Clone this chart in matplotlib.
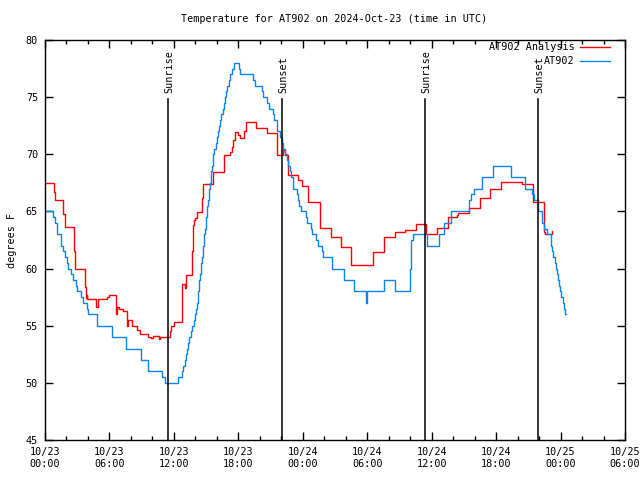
import matplotlib
matplotlib.use("Agg")
import matplotlib.pyplot as plt
from matplotlib.ticker import MultipleLocator

# ---- data (hours since 2024-10-23 00:00 UTC, degrees F) ----
obs_hours = [0.0, 0.78, 0.93, 1.09, 1.15, 1.46, 1.52, 1.71, 1.83, 2.08, 2.17, 2.45, 2.58,
             2.86, 2.95, 3.38, 3.57, 3.88, 4.03, 4.81, 6.21, 7.51, 8.91, 9.59, 10.93, 11.14,
             12.41, 12.72, 12.85, 13.0, 13.1,
             13.19, 13.30, 13.42, 13.55, 13.72, 13.84, 13.97, 14.05, 14.13, 14.20, 14.25,
             14.31, 14.38, 14.45, 14.50, 14.56, 14.62, 14.68, 14.73, 14.79, 14.84, 14.90,
             14.95, 15.01, 15.07, 15.12, 15.18, 15.24, 15.30, 15.36, 15.42, 15.48, 15.55,
             15.61, 15.68, 15.78, 15.88, 15.99, 16.10, 16.21, 16.32, 16.43, 16.53, 16.63,
             16.74, 16.85, 16.96, 17.10, 17.22, 17.42, 17.63,
             18.06, 18.15, 19.40, 19.55, 20.17, 20.33, 20.70, 20.85, 21.26, 21.35, 21.57,
             21.63, 21.88, 22.04, 22.20, 22.35, 22.50, 22.66, 22.81, 22.92, 23.06, 23.43,
             23.59, 23.68, 23.84, 24.30, 24.42, 24.77, 24.83, 25.23, 25.39, 25.76, 25.91,
             26.69, 27.84, 28.80, 29.92, 30.0, 31.55, 32.62, 33.94, 34.02, 34.12, 34.30,
             35.53, 36.65, 37.14, 37.83, 39.43, 39.52, 39.70, 39.97, 40.69, 41.74, 43.42,
             44.72, 45.37, 45.50, 45.93, 46.27, 46.48, 46.71, 47.08, 47.20, 47.33, 47.45,
             47.55, 47.65, 47.74, 47.83, 47.95, 48.08, 48.22, 48.32, 48.42, 48.48]
obs_temp = [65.0, 64.5, 64.0, 63.5, 63.0, 62.5, 62.0, 61.5, 61.0, 60.5, 60.0, 59.5, 59.0,
            58.5, 58.0, 57.5, 57.0, 56.5, 56.0, 55.0, 54.0, 53.0, 52.0, 51.0, 50.5, 50.0,
            50.5, 51.0, 51.5, 52.0, 52.5,
            53.0, 53.5, 54.0, 54.5, 55.0, 55.5, 56.0, 56.5, 57.0, 57.5, 58.0,
            58.5, 59.0, 59.5, 60.0, 60.5, 61.0, 61.5, 62.0, 62.5, 63.0, 63.5,
            64.0, 64.5, 65.0, 65.5, 66.0, 66.5, 67.0, 67.5, 68.0, 68.5, 69.0,
            69.5, 70.0, 70.5, 71.0, 71.5, 72.0, 72.5, 73.0, 73.5, 74.0, 74.5,
            75.0, 75.5, 76.0, 76.5, 77.0, 77.5, 78.0,
            77.5, 77.0, 76.5, 76.0, 75.5, 75.0, 74.5, 74.0, 73.5, 73.0, 72.5,
            72.0, 71.5, 71.0, 70.5, 70.0, 69.5, 69.0, 68.5, 68.0, 67.0, 66.5,
            66.0, 65.5, 65.0, 64.5, 64.0, 63.5, 63.0, 62.5, 62.0, 61.5, 61.0,
            60.0, 59.0, 58.0, 57.0, 58.0, 59.0, 58.0, 59.0, 60.0, 62.5, 63.0,
            62.0, 63.0, 64.0, 65.0, 65.5, 66.0, 66.5, 67.0, 68.0, 69.0, 68.0,
            67.0, 66.5, 66.0, 65.0, 64.0, 63.5, 63.0, 62.0, 61.5, 61.0, 60.5,
            60.0, 59.5, 59.0, 58.5, 58.0, 57.5, 57.0, 56.5, 56.0, 56.0]

ana_hours = [0.0, 0.84, 0.93, 1.71, 1.83, 2.70, 2.78, 3.75, 3.82, 3.88, 3.95, 4.78, 4.96,
             5.80, 5.95, 6.58, 6.65, 6.73, 6.90, 7.26, 7.66, 7.75, 8.13, 8.53, 8.81, 9.62,
             9.84, 10.05, 10.61, 10.67, 11.64, 11.75, 12.00, 12.72, 13.00, 13.12, 13.65,
             13.75, 13.87, 13.96, 14.18, 14.65, 14.74, 15.67, 16.67, 17.22, 17.38, 17.53,
             17.69, 18.00, 18.15, 18.50, 18.68, 19.61, 20.64, 21.57, 22.13, 22.30, 22.66,
             23.59, 23.90, 24.52, 25.57, 26.60, 27.53, 28.50, 30.54, 31.55, 32.56, 33.52,
             34.50, 35.50, 36.50, 37.52, 38.35, 38.42, 39.45, 40.47, 41.40, 42.49, 43.51,
             44.44, 45.42, 46.43, 46.55, 47.20, 47.24]
ana_temp = [67.46, 66.73, 66.0, 64.75, 63.6, 61.5, 59.93, 58.4, 57.4, 57.7, 57.3, 56.6, 57.3,
            57.5, 57.7, 57.5, 56.0, 56.67, 56.5, 56.3, 55.0, 55.5, 55.0, 54.6, 54.3, 54.05,
            53.9, 54.1, 53.8, 54.0, 54.5, 55.0, 55.35, 58.62, 58.3, 59.44, 61.54,
            63.8, 64.25, 64.4, 64.98, 66.15, 67.37, 68.48, 69.94, 70.2, 70.67, 71.25,
            71.98, 71.7, 71.4, 72.0, 72.85, 72.33, 71.83, 69.94, 70.4, 69.9, 68.19,
            67.75, 67.22, 65.8, 63.52, 62.73, 61.86, 60.31, 61.42, 62.79, 63.17, 63.38,
            63.87, 63.0, 63.58, 64.54, 64.7, 64.84, 65.33, 66.21, 66.96, 67.6, 67.55,
            67.37, 65.8, 63.23, 63.0, 63.3, 63.3]

sun_hours = [11.47, 22.10, 35.35, 45.93]
sun_labels = ["Sunrise", "Sunset", "Sunrise", "Sunset"]

xtick_hours = [0, 6, 12, 18, 24, 30, 36, 42, 48, 54]
xtick_labels = ["10/23\n00:00", "10/23\n06:00", "10/23\n12:00", "10/23\n18:00",
                "10/24\n00:00", "10/24\n06:00", "10/24\n12:00", "10/24\n18:00",
                "10/25\n00:00", "10/25\n06:00"]
ytick_vals = [45, 50, 55, 60, 65, 70, 75, 80]

FONT = "DejaVu Sans Mono"
FS = 7.3

fig = plt.figure(figsize=(6.4, 4.8), dpi=100)
ax = fig.add_axes([45 / 640, 40 / 480, 580 / 640, 400 / 480])

ax.plot(ana_hours, ana_temp, drawstyle="steps-post", color="#ff0000", lw=1.0,
        label="AT902 Analysis")
ax.plot(obs_hours, obs_temp, drawstyle="steps-post", color="#0a84f0", lw=1.0,
        label="AT902")

for h, lab in zip(sun_hours, sun_labels):
    ax.axvline(h, ymin=0, ymax=0.8525, color="black", lw=1.1)
    ax.text(h + 0.12, 0.8675, lab, transform=ax.get_xaxis_transform(), rotation=90,
            ha="center", va="bottom", family=FONT, fontsize=FS)

ax.set_xlim(0, 54)
ax.set_ylim(45, 80)
ax.set_xticks(xtick_hours)
ax.set_xticklabels(xtick_labels, family=FONT, fontsize=FS)
ax.set_yticks(ytick_vals)
ax.set_yticklabels([str(v) for v in ytick_vals], family=FONT, fontsize=FS)
ax.xaxis.set_minor_locator(MultipleLocator(2))
ax.tick_params(which="both", direction="in", top=True, right=True, width=1.0)
ax.tick_params(which="major", length=6, pad=5)
ax.tick_params(which="minor", length=3)
for s in ax.spines.values():
    s.set_linewidth(1.0)

ax.set_ylabel("degrees F", family=FONT, fontsize=FS, labelpad=6)
fig.text(334 / 640, 1 - 19 / 480, "Temperature for AT902 on 2024-Oct-23 (time in UTC)",
         ha="center", va="center", family=FONT, fontsize=FS)

leg = ax.legend(loc="upper right", bbox_to_anchor=(0.974, 0.994), frameon=False,
                markerfirst=False, prop={"family": FONT, "size": FS}, handlelength=3.0,
                labelspacing=0.4, borderaxespad=0.0, borderpad=0.0, handletextpad=0.5)

fig.savefig("out.png", dpi=100)
